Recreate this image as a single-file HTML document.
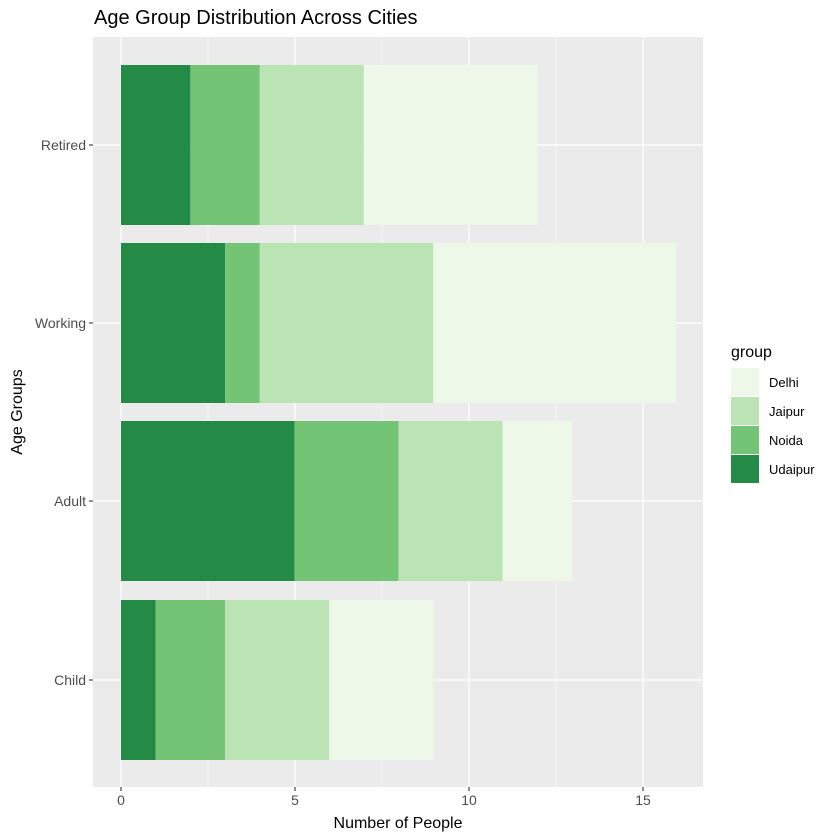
<!DOCTYPE html>
<html><head><meta charset="utf-8"><style>body{margin:0;background:#fff}svg{display:block}text{font-family:"Liberation Sans",sans-serif}</style></head><body>
<svg width="840" height="840" xmlns="http://www.w3.org/2000/svg">
<rect width="840" height="840" fill="#fff"/>
<rect x="93" y="37" width="610" height="750" fill="#ebebeb"/>
<g stroke="#fff" stroke-width="0.6">
<line x1="208" y1="37" x2="208" y2="787"/><line x1="382" y1="37" x2="382" y2="787"/><line x1="556" y1="37" x2="556" y2="787"/>
</g>
<g stroke="#fff" stroke-width="1.2">
<line x1="121" y1="37" x2="121" y2="787"/><line x1="295" y1="37" x2="295" y2="787"/><line x1="469" y1="37" x2="469" y2="787"/><line x1="643" y1="37" x2="643" y2="787"/>
<line x1="93" y1="145" x2="703" y2="145"/><line x1="93" y1="323" x2="703" y2="323"/><line x1="93" y1="501" x2="703" y2="501"/><line x1="93" y1="680" x2="703" y2="680"/>
</g>
<g transform="translate(121,0) scale(0.9969,1) translate(-121,0)">
<rect x="121" y="65" width="69.6" height="160" fill="#238b45"/>
<rect x="190.6" y="65" width="69.6" height="160" fill="#74c476"/>
<rect x="260.2" y="65" width="104.4" height="160" fill="#bae4b3"/>
<rect x="364.6" y="65" width="174" height="160" fill="#edf8e9"/>
<rect x="121" y="243" width="104.4" height="160" fill="#238b45"/>
<rect x="225.4" y="243" width="34.8" height="160" fill="#74c476"/>
<rect x="260.2" y="243" width="174" height="160" fill="#bae4b3"/>
<rect x="434.2" y="243" width="243.6" height="160" fill="#edf8e9"/>
<rect x="121" y="421" width="174" height="160" fill="#238b45"/>
<rect x="295" y="421" width="104.4" height="160" fill="#74c476"/>
<rect x="399.4" y="421" width="104.4" height="160" fill="#bae4b3"/>
<rect x="503.8" y="421" width="69.6" height="160" fill="#edf8e9"/>
<rect x="121" y="600" width="34.8" height="160" fill="#238b45"/>
<rect x="155.8" y="600" width="69.6" height="160" fill="#74c476"/>
<rect x="225.4" y="600" width="104.4" height="160" fill="#bae4b3"/>
<rect x="329.8" y="600" width="104.4" height="160" fill="#edf8e9"/>
</g>
<g stroke="#333" stroke-width="1.1">
<line x1="89" y1="145" x2="93" y2="145"/><line x1="89" y1="323" x2="93" y2="323"/><line x1="89" y1="501" x2="93" y2="501"/><line x1="89" y1="680" x2="93" y2="680"/>
<line x1="121" y1="787" x2="121" y2="791"/><line x1="295" y1="787" x2="295" y2="791"/><line x1="469" y1="787" x2="469" y2="791"/><line x1="643" y1="787" x2="643" y2="791"/>
</g>
<g font-size="14" fill="#4d4d4d" text-anchor="end">
<text x="86" y="150">Retired</text><text x="86" y="328">Working</text><text x="86" y="506">Adult</text><text x="86" y="685">Child</text>
</g>
<g font-size="14" fill="#4d4d4d" text-anchor="middle">
<text x="121" y="805">0</text><text x="295" y="805">5</text><text x="469" y="805">10</text><text x="643" y="805">15</text>
</g>
<text x="398" y="828" font-size="16" text-anchor="middle" fill="#000">Number of People</text>
<text transform="translate(22,412) rotate(-90)" font-size="16" text-anchor="middle" fill="#000">Age Groups</text>
<text x="94" y="24" font-size="20" fill="#000">Age Group Distribution Across Cities</text>
<text x="731" y="357" font-size="16" fill="#000">group</text>
<rect x="731" y="368" width="28" height="28" fill="#edf8e9"/>
<rect x="731" y="397" width="28" height="28" fill="#bae4b3"/>
<rect x="731" y="426" width="28" height="28" fill="#74c476"/>
<rect x="731" y="455" width="28" height="28" fill="#238b45"/>
<g font-size="13" fill="#000">
<text x="769" y="387">Delhi</text><text x="769" y="416">Jaipur</text><text x="769" y="445">Noida</text><text x="769" y="474">Udaipur</text>
</g>
</svg>
</body></html>
